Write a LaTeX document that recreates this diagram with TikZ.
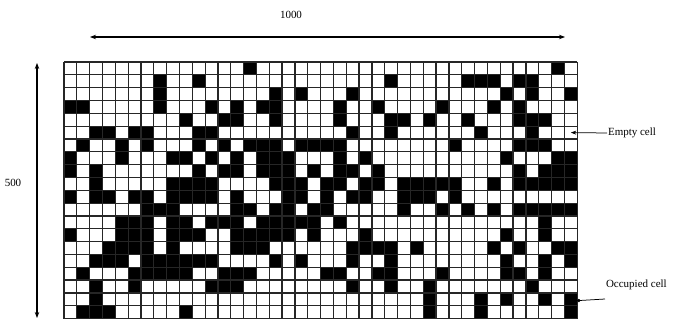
\documentclass[tikz,border=0pt]{standalone}
\usepackage{fontspec}
\setmainfont{Liberation Serif}
\usetikzlibrary{arrows.meta}
\tikzset{
  gridline/.style={line width=0.5mm, black!85},
  occ/.style={fill=black},
  dimarrow/.style={{Stealth[length=2.4mm,width=1.8mm]}-{Stealth[length=2.4mm,width=1.8mm]}, line width=0.45mm},
  pointer/.style={-{Stealth[length=2.2mm,width=1.6mm]}, line width=0.3mm},
  dotline/.style={{Circle[length=1.3mm]}-, line width=0.3mm},
  lbl/.style={font=\fontsize{12.5}{14}\selectfont, inner sep=1pt}
}
\begin{document}
\begin{tikzpicture}[x=0.4mm, y=-0.4mm]
        \useasboundingbox (0,0) rectangle (693,322);

        % cells, one row per entry: row/occupied columns
        \begin{scope}[shift={(64,62)}, x=5.132mm, y=-5.132mm]
          \foreach \r/\cols in {
              0/{14,38},
              1/{7,10,25,31,32,33,35,36},
              2/{7,16,18,22,34,36,39},
              3/{0,1,7,11,13,15,16,21,24,29,33,35},
              4/{9,12,13,16,21,25,26,28,31,35,36,37},
              5/{2,3,5,6,10,11,22,25,32,36},
              6/{1,4,6,10,12,14,15,16,18,19,20,21,30,35,36,37},
              7/{0,4,8,9,11,13,15,16,17,21,23,34,38,39},
              8/{0,2,10,12,13,15,16,17,19,21,22,24,35,37,38,39},
              9/{2,8,9,10,11,16,17,18,20,21,23,24,26,27,28,29,30,33,35,36,37,38,39},
              10/{0,2,3,5,6,8,9,10,11,13,17,18,20,22,23,26,27,28,30},
              11/{6,7,8,13,14,16,17,19,20,26,29,31,33,35,36,37,38,39},
              12/{4,5,6,8,9,11,12,13,15,16,17,18,19,21,37},
              13/{0,4,5,6,8,9,10,13,14,15,16,17,19,23,34,37},
              14/{3,4,5,6,8,13,14,15,22,23,24,25,27,33,35,38,39},
              15/{2,3,4,6,7,8,9,10,11,16,18,22,25,34,37,39},
              16/{1,5,6,7,8,9,12,13,14,20,21,24,25,29,34,35,37},
              17/{2,5,11,12,13,22,25,28,36},
              18/{2,28,32,34,37,39},
              19/{1,2,3,9,28,32,39}}
            \foreach \c in \cols
              \fill[occ] (\c,\r) rectangle ++(1,1);
          \foreach \c in {0,...,40}
            \draw[gridline] (\c,0) -- (\c,20);
          \foreach \r in {0,...,20}
            \draw[gridline] (0,\r) -- (40,\r);
          \coordinate (emptycell) at (39.5,5.5);
          \coordinate (occcell) at (40,18.6);
        \end{scope}

        % dimensions
        \node[lbl] (wlbl) at (291,15) {1000};
        \coordinate (wleft) at (90,37);
        \coordinate (wright) at (565,37);
        \draw[dimarrow] (wleft) -- (wright);

        \node[lbl] (hlbl) at (13,183) {500};
        \coordinate (htop) at (37,63);
        \coordinate (hbot) at (37,318);
        \draw[dimarrow] (htop) -- (hbot);

        % legend
        \node[lbl, anchor=west] (emptylbl) at (607,133) {Empty cell};
        \draw[pointer] (emptylbl.west) -- (emptycell);
        \node[lbl, anchor=west] (occlbl) at (605,285) {Occupied cell};
        \coordinate (occtail) at (605,299);
        \draw[dotline] (occcell) -- (occtail);
\end{tikzpicture}
\end{document}
